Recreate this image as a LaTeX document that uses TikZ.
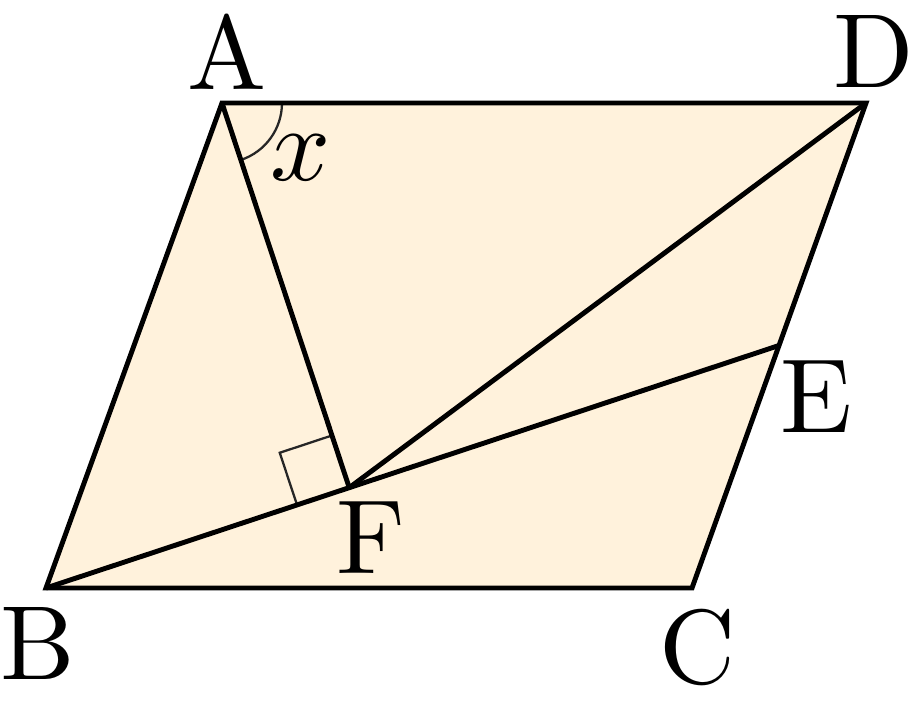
\documentclass[tikz,border=0pt]{standalone}
\usetikzlibrary{calc}
\definecolor{beige}{HTML}{FFF2DC}
\begin{document}
\begin{tikzpicture}[x=0.02cm, y=-0.02cm,
    side/.style={line width=2.8pt},
    thinmark/.style={line width=1.3pt, draw=black!85},
    letter/.style={inner sep=0pt, scale=6}]
  \useasboundingbox (0,0) rectangle (915,712);
  \coordinate (A) at (222,103);
  \coordinate (D) at (866,103);
  \coordinate (C) at (692,588);
  \coordinate (B) at (46,588);
  \coordinate (E) at ($(D)!0.5!(C)$);
  \coordinate (F) at ($(B)!(A)!(E)$);
  \fill[beige] (A) -- (D) -- (C) -- (B) -- cycle;
  % right angle at F
  \coordinate (FA) at ($(F)!1.1cm!(A)$);
  \coordinate (FB) at ($(F)!1.1cm!(B)$);
  \draw[thinmark] (FA) -- ($(FA)+(FB)-(F)$) -- (FB);
  % angle x
  \draw[thinmark] ($(A)+(0:1.2cm)$) arc[start angle=0, end angle=-71.8, radius=1.2cm];
  \draw[side] (A) -- (D) -- (C) -- (B) -- cycle;
  \draw[side] (A) -- (F);
  \draw[side] (D) -- (F);
  \draw[side] (B) -- (E);
  \node[letter] (labelA) at (227,52) {A};
  \node[letter] (labelD) at (874,52) {D};
  \node[letter] (labelB) at (38,643) {B};
  \node[letter] (labelC) at (698,647) {C};
  \node[letter] (labelE) at (816,397) {E};
  \node[letter] (labelF) at (371,538) {F};
  \node[letter] (labelx) at (301,158) {$x$};
\end{tikzpicture}
\end{document}
